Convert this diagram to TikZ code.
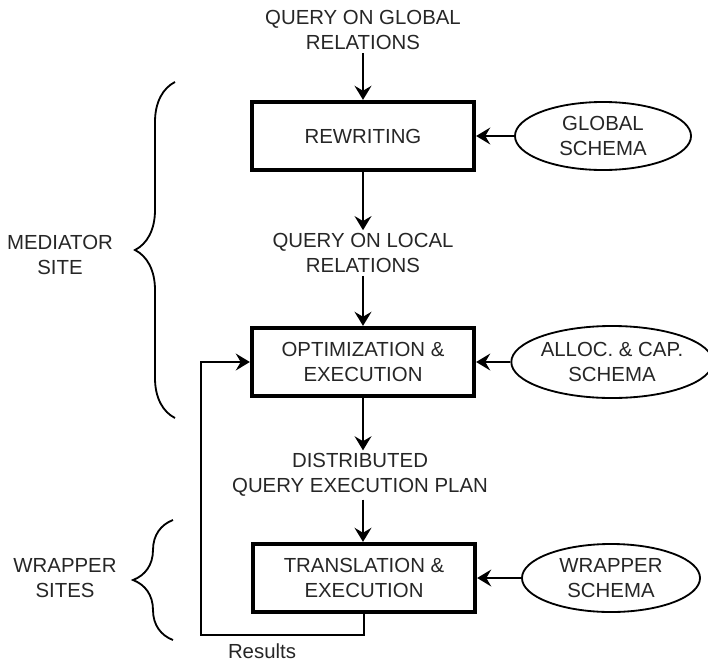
\documentclass[tikz,border=0pt]{standalone}
\usepackage{fontspec}
\setmainfont{Liberation Sans}
\usepackage{tikz}
\usetikzlibrary{arrows.meta, shapes.geometric, positioning, decorations.pathreplacing}

\begin{document}
\begin{tikzpicture}[
    x=0.025cm, y=-0.025cm,
    font=\fontsize{14.5}{17.8}\selectfont,
    txt/.style={align=center, text=black!85, inner sep=2pt},
    stage/.style={draw, rectangle, line width=3pt, minimum width=5.55cm,
                  minimum height=1.7cm, align=center, text=black!85},
    schema/.style={draw, ellipse, line width=1.3pt, inner sep=0pt,
                   minimum width=4.4cm, minimum height=1.7cm, align=center,
                   text=black!85},
    arr/.style={-{Stealth[length=10pt, width=12pt, inset=3.5pt]}, line width=1.3pt},
    curly/.style={decorate, line width=1.3pt,
                  decoration={brace, amplitude=1cm, aspect=0.5}}
  ]
  \useasboundingbox (0,0) rectangle (708,664);
  % Query chain
  \node[txt] (qglobal) at (363,30) {QUERY ON GLOBAL\\RELATIONS};
  \node[stage] (rewrite) at (363,136) {REWRITING};
  \node[txt] (qlocal) at (363,253) {QUERY ON LOCAL\\RELATIONS};
  \node[stage] (optim) at (363,362) {OPTIMIZATION \&\\EXECUTION};
  \node[txt] (plan) at (360,475) {DISTRIBUTED\\QUERY EXECUTION PLAN};
  \node[stage] (transl) at (364,578) {TRANSLATION \&\\EXECUTION};
  \draw[arr] (qglobal) -- (rewrite);
  \draw[arr] (rewrite) -- (qlocal);
  \draw[arr] (qlocal) -- (optim);
  \draw[arr] (optim) -- (optim |- plan.north);
  \draw[arr] (optim |- plan.south) -- (optim |- transl.north);
  % Schemas
  \node[schema] (gschema) at (603,136) {GLOBAL\\SCHEMA};
  \node[schema, minimum width=4.75cm, minimum height=1.8cm] (aschema) at (612,362)
    {ALLOC. \& CAP.\\SCHEMA};
  \node[schema, minimum width=4.45cm] (wschema) at (611,578) {WRAPPER\\SCHEMA};
  \draw[arr] (gschema) -- (rewrite);
  \draw[arr] (aschema) -- (optim);
  \draw[arr] (wschema) -- (transl);
  % Results loop
  \coordinate (back) at (201,635);
  \draw[arr] (transl.south) |- (back) |- (optim.west);
  \node[txt] (results) at (262,651) {Results};
  % Sites
  \draw[curly] (175,418) -- (175,82);
  \draw[curly] (173,640) -- (173,520);
  \node[txt] (medlbl) at (60,255) {MEDIATOR\\SITE};
  \node[txt] (wraplbl) at (65,578) {WRAPPER\\SITES};
\end{tikzpicture}
\end{document}
